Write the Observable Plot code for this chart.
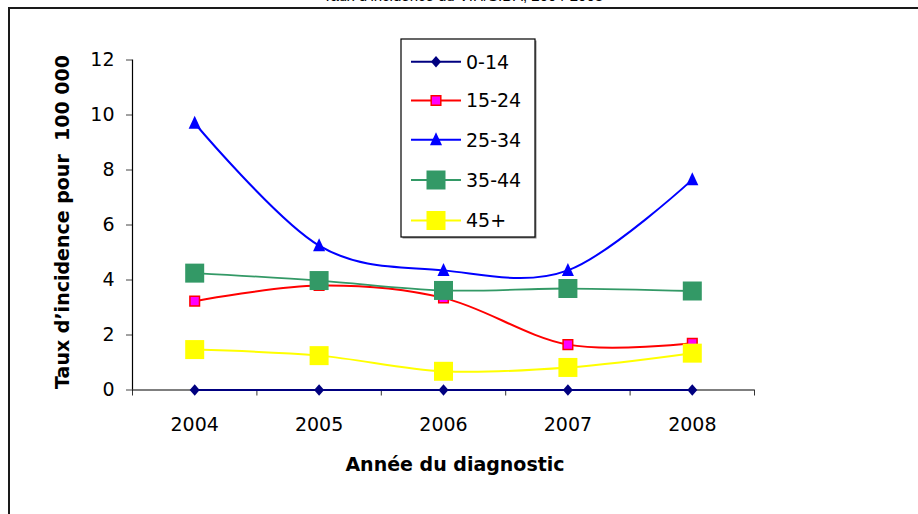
<!DOCTYPE html>
<html>
<head>
<meta charset="utf-8">
<script src="https://cdn.jsdelivr.net/npm/d3@7"></script>
<script src="https://cdn.jsdelivr.net/npm/@observablehq/plot@0.6"></script>
<style>
  html, body { margin: 0; padding: 0; background: #fff; }
  #page { position: relative; width: 918px; height: 514px; overflow: hidden; font-family: "DejaVu Sans", sans-serif; }
  #frame { position: absolute; left: 8px; top: 7px; width: 920px; height: 520px; border-top: 2px solid #1a1a1a; border-left: 2px solid #1a1a1a; box-sizing: border-box; }
  #title { position: absolute; left: 463px; top: -13px; transform: translateX(-50%); font-size: 15px; white-space: nowrap; color: #000; font-family: "Liberation Sans", Arial, sans-serif; }
  #chart { position: absolute; left: 0; top: 0; }
  .xtitle { position: absolute; left: 455px; top: 453px; transform: translateX(-50%); font-weight: bold; font-size: 19px; white-space: nowrap; }
  .ytitle { position: absolute; left: 62px; top: 222px; transform: translate(-50%, -50%) rotate(-90deg); font-weight: bold; font-size: 19px; white-space: pre; }
  #legend { position: absolute; left: 0; top: 0; }
</style>
</head>
<body>
<div id="page">
  <div id="title">Taux d’incidence du VIH/SIDA, 2004-2008</div>
  <div id="frame"></div>
  <div id="chart"></div>
  <div class="xtitle">Année du diagnostic</div>
  <div class="ytitle">Taux d’incidence pour  100 000</div>
  <svg id="legend" width="918" height="514"></svg>
</div>
<script>
// ---- data ----
const years = [2004, 2005, 2006, 2007, 2008];
const seriesNames = ["0-14", "15-24", "25-34", "35-44", "45+"];
const v0_14  = [0, 0, 0, 0, 0];
const v15_24 = [3.23, 3.8, 3.35, 1.65, 1.7];
const v25_34 = [9.7, 5.25, 4.35, 4.35, 7.65];
const v35_44 = [4.25, 3.98, 3.62, 3.69, 3.6];
const v45    = [1.47, 1.25, 0.68, 0.82, 1.34];
const yTicks = [0, 2, 4, 6, 8, 10, 12];

const values = [v0_14, v15_24, v25_34, v35_44, v45];

// ---- symbols ----
const half = size => Math.sqrt(size / Math.PI);
const diamondSym = {draw(ctx, size) { const r = half(size); ctx.moveTo(0, -r * 1.15); ctx.lineTo(r, 0); ctx.lineTo(0, r * 1.15); ctx.lineTo(-r, 0); ctx.closePath(); }};
const triangleSym = {draw(ctx, size) { const r = half(size); ctx.moveTo(0, -1.15 * r); ctx.lineTo(0.93 * r, 0.85 * r); ctx.lineTo(-0.93 * r, 0.85 * r); ctx.closePath(); }};
const squareSym = {draw(ctx, size) { const r = half(size); ctx.rect(-r, -r, 2 * r, 2 * r); }};

const styles = [
  {line: "#000080", symbol: diamondSym, r: 5, fill: "#000080", stroke: "none", sw: 0, lw: 2},
  {line: "#FF0000", symbol: squareSym, r: 4.8, fill: "#FF00FF", stroke: "#FF0000", sw: 1.5, lw: 2},
  {line: "#0000FF", symbol: triangleSym, r: 6.5, fill: "#0000FF", stroke: "none", sw: 0, lw: 2},
  {line: "#339966", symbol: squareSym, r: 9.5, fill: "#339966", stroke: "none", sw: 0, lw: 1.8},
  {line: "#FFFF00", symbol: squareSym, r: 9.5, fill: "#FFFF00", stroke: "none", sw: 0, lw: 2}
];

const rows = seriesNames.map((name, i) => years.map((yr, j) => ({series: name, year: yr, value: values[i][j]})));
const bounds = years.map(y => y - 0.5).concat([years[years.length - 1] + 0.5]);

const marks = [
  Plot.axisX({ticks: bounds, tickSize: 6, tickFormat: () => "", stroke: "#333"}),
  Plot.axisX({ticks: years, tickSize: 0, tickPadding: 27, tickFormat: d => String(d), fontSize: 19, fill: "#000"}),
  Plot.axisY({ticks: yTicks, tickSize: 6, tickPadding: 12, fontSize: 19, stroke: "#444", fill: "#000"}),
  Plot.ruleX([bounds[0]], {stroke: "#000", strokeWidth: 1.2}),
  Plot.ruleY([0], {stroke: "#000", strokeWidth: 1.2})
];
rows.forEach((data, i) => {
  const s = styles[i];
  marks.push(Plot.line(data, {x: "year", y: "value", stroke: s.line, strokeWidth: s.lw, curve: "cardinal"}));
  marks.push(Plot.dot(data, {x: "year", y: "value", symbol: s.symbol, r: s.r, fill: s.fill, stroke: s.stroke, strokeWidth: s.sw}));
});

const chart = Plot.plot({
  width: 918,
  height: 514,
  marginLeft: 132,
  marginRight: 164,
  marginTop: 59.5,
  marginBottom: 124.5,
  style: {fontFamily: "'DejaVu Sans', sans-serif", background: "transparent", overflow: "visible"},
  x: {domain: [bounds[0], bounds[bounds.length - 1]], label: null},
  y: {domain: [0, 12], label: null},
  marks
});
document.getElementById("chart").appendChild(chart);

// ---- legend ----
const lg = d3.select("#legend");
const box = {x: 401, y: 39, w: 134, h: 198};
lg.append("rect").attr("x", box.x + 1.5).attr("y", box.y + 1.5).attr("width", box.w).attr("height", box.h).attr("fill", "#888");
lg.append("rect").attr("x", box.x).attr("y", box.y).attr("width", box.w).attr("height", box.h).attr("fill", "#fff").attr("stroke", "#000").attr("stroke-width", 1.2);
const rowY = [61.7, 100.5, 139.8, 180, 220.5];
seriesNames.forEach((name, i) => {
  const s = styles[i];
  const y = rowY[i];
  lg.append("line").attr("x1", 411).attr("x2", 461).attr("y1", y).attr("y2", y).attr("stroke", s.line).attr("stroke-width", 2);
  lg.append("path").attr("transform", `translate(436,${y})`)
    .attr("d", d3.symbol(s.symbol, s.r * s.r * Math.PI)())
    .attr("fill", s.fill).attr("stroke", s.stroke === "none" ? null : s.stroke).attr("stroke-width", s.sw);
  lg.append("text").attr("x", 466).attr("y", y).attr("dy", "0.36em")
    .attr("font-size", 19).attr("font-family", "'DejaVu Sans', sans-serif").text(name);
});
</script>
</body>
</html>
